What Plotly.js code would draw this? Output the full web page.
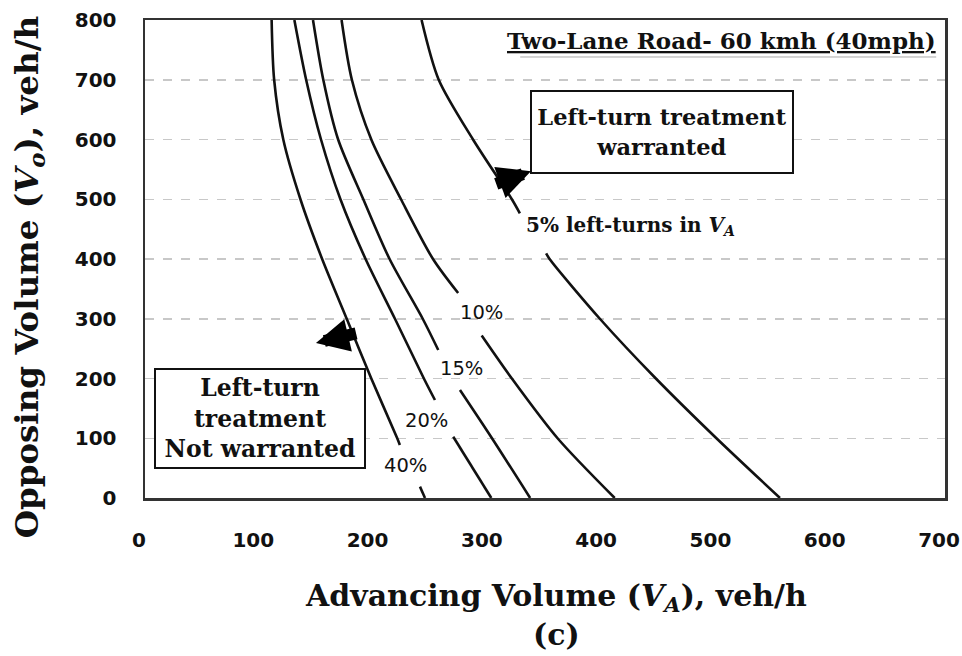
<!DOCTYPE html>
<html>
<head>
<meta charset="utf-8">
<script src="https://cdn.plot.ly/plotly-3.0.1.min.js"></script>
<style>html,body{margin:0;padding:0;background:#fff;}#chart{width:962px;height:656px;}</style>
</head>
<body>
<div id="chart"></div>
<script>
// Advancing volume (x) and opposing volume (y); null = gap left for a label
const pct40_x = [110.8, 113, 121, 136, 155, 176.5, 198, 220.7, 223, null, 240.6, 245];
const pct40_y = [800, 700, 600, 500, 400, 300, 200, 100, 88.7, null, 19, 0];
const pct20_x = [130.7, 141, 154, 171, 193, 218.7, 244, 253.7, null, 269.7, 303];
const pct20_y = [800, 700, 600, 500, 400, 300, 200, 164, null, 102.6, 0];
const pct15_x = [147, 156, 169, 191, 214, 243, 256.6, null, 275.6, 303.6, 337];
const pct15_y = [800, 700, 600, 500, 400, 300, 247.7, null, 180.7, 100, 0];
const pct10_x = [172, 181, 198, 224, 252, 274, null, 294.6, 321, 361, 411];
const pct10_y = [800, 700, 600, 500, 400, 343, null, 272, 200, 100, 0];
const pct5_x = [242, 257, 287, 321, 328, null, 351, 354, 398, 447, 500, 555.6];
const pct5_y = [800, 700, 600, 500, 476.5, null, 409.5, 400, 300, 200, 100, 0];

const curveNames = ['40%', '20%', '15%', '10%', '5%'];
const xTicks = [0, 100, 200, 300, 400, 500, 600, 700];
const yTicks = [0, 100, 200, 300, 400, 500, 600, 700, 800];

const serif = 'DejaVu Serif';
const series = [[pct40_x, pct40_y], [pct20_x, pct20_y], [pct15_x, pct15_y], [pct10_x, pct10_y], [pct5_x, pct5_y]];
const traces = series.map((s, i) => ({
  x: s[0], y: s[1], name: curveNames[i], type: 'scatter', mode: 'lines',
  line: {color: '#111', width: 2.6, shape: 'spline', smoothing: 0.8},
  connectgaps: false, hoverinfo: 'skip'
}));

const pctLabel = (txt, x, y) => ({
  text: txt, x: x, y: y, xref: 'x', yref: 'y', showarrow: false,
  font: {family: 'DejaVu Sans', size: 19.5, color: '#111'}
});

const layout = {
  width: 962, height: 656,
  margin: {l: 145, r: 17, t: 20, b: 158, pad: 0},
  paper_bgcolor: '#fff', plot_bgcolor: '#fff',
  showlegend: false,
  xaxis: {
    range: [0, 700], tickvals: xTicks, ticktext: xTicks.map(String),
    showgrid: false, zeroline: false,
    showline: true, linecolor: '#333', linewidth: 2.5, mirror: true,
    ticks: '', ticklabelstandoff: 22, ticklabelshift: -6, ticklabeloverflow: 'allow',
    tickfont: {family: 'DejaVu Sans', size: 20, weight: 'bold', color: '#111'}
  },
  yaxis: {
    range: [0, 800], tickvals: yTicks, ticktext: yTicks.map(String),
    showgrid: true, gridcolor: '#c8c8c8', gridwidth: 1.5, griddash: 'dash',
    zeroline: false,
    showline: true, linecolor: '#333', linewidth: 2.5, mirror: true,
    ticks: '', ticklabelstandoff: 22,
    tickfont: {family: 'DejaVu Sans', size: 20, weight: 'bold', color: '#111'}
  },
  shapes: [
    {type: 'line', xref: 'paper', yref: 'paper', x0: 0.469, x1: 0.989, y0: 0.9226, y1: 0.9226,
     line: {color: '#aaa', width: 1}}
  ],
  annotations: [
    {text: 'Advancing Volume (<i>V</i><sub><i>A</i></sub>), veh/h<br>(c)', xref: 'paper', yref: 'paper',
     x: 0.514, y: -0.245, xanchor: 'center', yanchor: 'middle', showarrow: false,
     font: {family: serif, size: 30, weight: 'bold', color: '#111'}},
    {text: 'Opposing Volume (<i>V</i><sub><i>o</i></sub>), veh/h', xref: 'paper', yref: 'paper',
     x: -0.146, y: 0.462, xanchor: 'center', yanchor: 'middle', textangle: -90, showarrow: false,
     font: {family: serif, size: 32.5, weight: 'bold', color: '#111'}},
    {text: '<u>Two-Lane Road- 60 kmh (40mph)</u>', xref: 'paper', yref: 'paper',
     x: 0.991, y: 0.958, xanchor: 'right', yanchor: 'middle', showarrow: false,
     font: {family: serif, size: 23, weight: 'bold', color: '#111'}},
    {text: 'Left-turn treatment<br>warranted', xref: 'x', yref: 'y', x: 452, y: 612.5,
     showarrow: false, width: 258, height: 78, bgcolor: '#fff', bordercolor: '#111', borderwidth: 2,
     font: {family: serif, size: 22.5, weight: 'bold', color: '#111'}},
    {text: 'Left-turn<br>treatment<br>Not warranted', xref: 'x', yref: 'y', x: 100.6, y: 133,
     showarrow: false, width: 206, height: 95, bgcolor: '#fff', bordercolor: '#111', borderwidth: 2,
     font: {family: serif, size: 23.5, weight: 'bold', color: '#111'}},
    {text: '5% left-turns in <i>V</i><sub><i>A</i></sub>', xref: 'x', yref: 'y', x: 425, y: 455,
     showarrow: false, font: {family: serif, size: 20, weight: 'bold', color: '#111'}},
    pctLabel('10%', 294, 310),
    pctLabel('15%', 277, 217),
    pctLabel('20%', 246.4, 129),
    pctLabel('40%', 228.3, 55),
    {text: '', xref: 'x', yref: 'y', x: 337.7, y: 547, axref: 'x', ayref: 'y', ax: 306, ay: 525,
     showarrow: true, arrowhead: 2, arrowsize: 0.55, arrowwidth: 12, arrowcolor: '#000'},
    {text: '', xref: 'x', yref: 'y', x: 149.6, y: 259.4, axref: 'x', ayref: 'y', ax: 186, ay: 276,
     showarrow: true, arrowhead: 2, arrowsize: 0.55, arrowwidth: 12, arrowcolor: '#000'}
  ]
};

Plotly.newPlot('chart', traces, layout, {staticPlot: true, displayModeBar: false});
</script>
</body>
</html>
